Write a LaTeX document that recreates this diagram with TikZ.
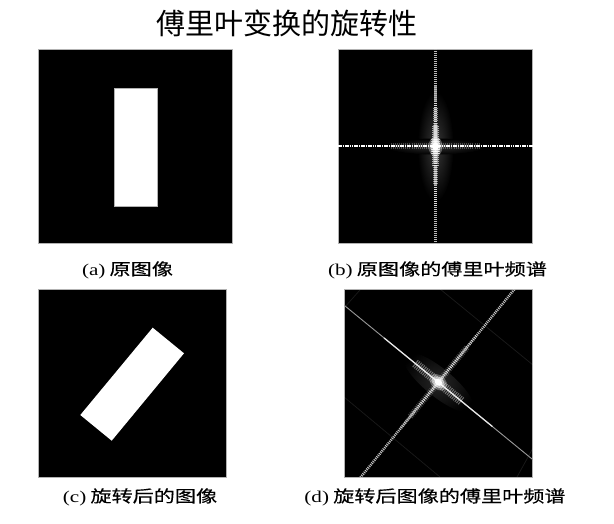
\documentclass[tikz,border=0pt]{standalone}
\usepackage{fontspec}
\setmainfont{Liberation Serif}
\newfontfamily\cjk{Noto Sans CJK SC}
\newfontfamily\cjkcap[FakeStretch=1.28, FakeBold=0.25]{Noto Sans CJK SC}
\newfontfamily\latcap[FakeStretch=1.28]{Liberation Serif}
\newcommand{\subcap}[2]{{\latcap #1} {\cjkcap #2}}
\usetikzlibrary{positioning}
\tikzset{
  panel/.style={fill=black, draw=gray!60, line width=0.5pt, inner sep=0pt,
    minimum width=#1, minimum height=#1},
  panel/.default=190pt,
  caption/.style={font=\fontsize{16.5pt}{18pt}\selectfont, inner sep=0pt},
  glow/.style={white, opacity=#1},
  halo/.style={inner color=white!#1!black, outer color=black},
  fringe/.style={white, opacity=#1, dash pattern=on 1pt off 1.1pt},
}
\begin{document}
\begin{tikzpicture}[x=1pt, y=-1pt]
  \useasboundingbox[fill=white] (0,0) rectangle (614,524);
  \node[font=\cjk\fontsize{29pt}{32pt}\selectfont] (title) at (287,23) {傅里叶变换的旋转性};

  \node[panel=194.4pt] (img_a) at (135.5,146) {};
  \node[panel=194.4pt] (img_b) at (435.5,146.5) {};
  \node[panel=187.7pt] (img_c) at (132.2,383.2) {};
  \node[panel=187.7pt] (img_d) at (438.5,383.2) {};

  \node[caption] (cap_a) at (127.5,270) {\subcap{(a)}{原图像}};
  \node[caption] (cap_b) at (437.5,270) {\subcap{(b)}{原图像的傅里叶频谱}};
  \node[caption] (cap_c) at (140,497) {\subcap{(c)}{旋转后的图像}};
  \node[caption] (cap_d) at (435,497) {\subcap{(d)}{旋转后图像的傅里叶频谱}};

  % (a) and (c)
  \fill[white, draw=gray!60, line width=0.5pt] (114.7,88.3) rectangle (157.3,206.7);
  \fill[white] (152.7,327.7) -- (184,353.3) -- (111.7,440.7) -- (80.3,415) -- cycle;

  % (b)
  \begin{scope}
    \clip (img_b.south west) rectangle (img_b.north east);
    \shade[halo=22] (img_b.center) ellipse [x radius=18pt, y radius=55pt];
    \shade[halo=18] (img_b.center) ellipse [x radius=50pt, y radius=8pt];
    \draw[gray!55, line width=3pt, dash pattern=on 1.2pt off 0.8pt] (img_b.north) -- (img_b.south);
    \foreach \l/\w/\o in {60/3.5/0.5, 38/5/0.5, 20/7/0.6, 8/9/0.7}
      \draw[fringe=\o, line width=\w pt] ([yshift=-\l pt]img_b.center) -- ([yshift=\l pt]img_b.center);
    \draw[fringe=0.25, line width=6pt] ([xshift=-45pt]img_b.center) -- ([xshift=45pt]img_b.center);
    \draw[white, line width=2pt, dash pattern=on 1.6pt off 0.7pt] (img_b.west) -- (img_b.east);
    \foreach \r/\o in {7/0.3, 5/0.5, 3/1}
      \fill[glow=\o] (img_b.center) ellipse [x radius=\r pt, y radius=1.4*\r pt];
  \end{scope}

  % (d)
  \coordinate (d_c) at (438.3,382.3);
  \begin{scope}
    \clip (img_d.south west) rectangle (img_d.north east);
    \foreach \a/\b in {{(440,289)}/{(533,365)}, {(344,397)}/{(440,477)},
                       {(360,290)}/{(344,308)}, {(533,448)}/{(517,477)}}
      \draw[glow=0.1, line width=0.7pt] \a -- \b;
    \shade[halo=15, rotate around={-39.3:(d_c)}] (d_c) ellipse [x radius=45pt, y radius=14pt];
    \draw[gray!45, line width=2.5pt, dash pattern=on 1pt off 1pt] (533.3,266.2) -- (343.3,498.4);
    \draw[fringe=0.35, line width=3pt] (476.3,335.9) -- (400.3,428.7);
    \draw[gray!80, line width=0.9pt] (322.2,287.3) -- (554.4,477.3);
    \draw[glow=0.8, line width=1.3pt] (384.1,338.0) -- (492.5,426.6);
    \draw[fringe=0.4, line width=9pt] (415.1,363.3) -- (461.5,401.3);
    \draw[fringe=0.25, line width=6pt] (466.8,347.5) -- (409.8,417.1);
    \foreach \r/\o in {7/0.3, 5/0.5, 3/1}
      \fill[glow=\o, rotate around={-39.3:(d_c)}] (d_c) ellipse [x radius=1.4*\r pt, y radius=\r pt];
  \end{scope}
\end{tikzpicture}
\end{document}
